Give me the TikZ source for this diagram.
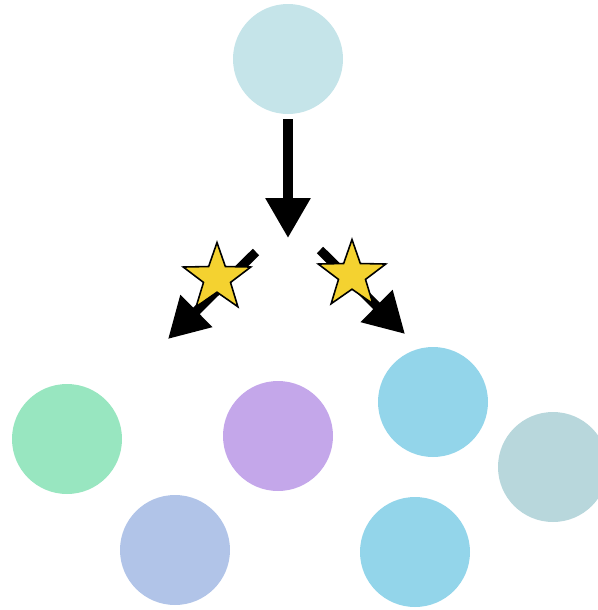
\documentclass[tikz,border=0pt]{standalone}
\usepackage{xcolor}
\definecolor{paleteal}{HTML}{C5E4E9}
\definecolor{mint}{HTML}{98E6C0}
\definecolor{lilac}{HTML}{C4A7EA}
\definecolor{skyblue}{HTML}{93D5EA}
\definecolor{greyteal}{HTML}{B8D7DC}
\definecolor{periwinkle}{HTML}{B1C4E8}
\definecolor{gold}{HTML}{F4D230}
\usetikzlibrary{positioning,arrows.meta,shapes.geometric}

\begin{document}
\begin{tikzpicture}[ball/.style={circle, minimum size=2.2cm, inner sep=0pt, draw=none},
  bigarrow/.style={line width=5.2pt, -{Triangle[length=0.8cm, width=0.86cm]}},
  mark star/.style={star, star points=5, star point ratio=2.5, minimum size=1.42cm, inner sep=0pt, draw=black, line width=0.9pt, fill=gold}]
  \useasboundingbox (0,0) rectangle (11.96,-12.2);
  \node[ball, fill=paleteal] (root) at (5.76,-1.18) {};
  \node[ball, fill=mint] (green) at (1.34,-8.78) {};
  \node[ball, fill=lilac] (purple) at (5.56,-8.72) {};
  \node[ball, fill=skyblue] (blueA) at (8.66,-8.04) {};
  \node[ball, fill=greyteal] (grey) at (11.06,-9.34) {};
  \node[ball, fill=periwinkle] (lavender) at (3.5,-11.0) {};
  \node[ball, fill=skyblue] (blueB) at (8.3,-11.04) {};
  \coordinate (downtip) at (5.76,-4.76);
  \coordinate (leftfrom) at (5.12,-5.04);
  \coordinate (lefttip) at (3.36,-6.78);
  \coordinate (rightfrom) at (6.4,-5.0);
  \coordinate (righttip) at (8.1,-6.68);
  \draw[bigarrow] (root.south) ++(0,-0.1) -- (downtip);
  \draw[bigarrow] (leftfrom) -- (lefttip);
  \draw[bigarrow] (rightfrom) -- (righttip);
  \node[mark star] (leftstar) at (4.34,-5.56) {};
  \node[mark star] (rightstar) at (7.04,-5.5) {};
\end{tikzpicture}
\end{document}
